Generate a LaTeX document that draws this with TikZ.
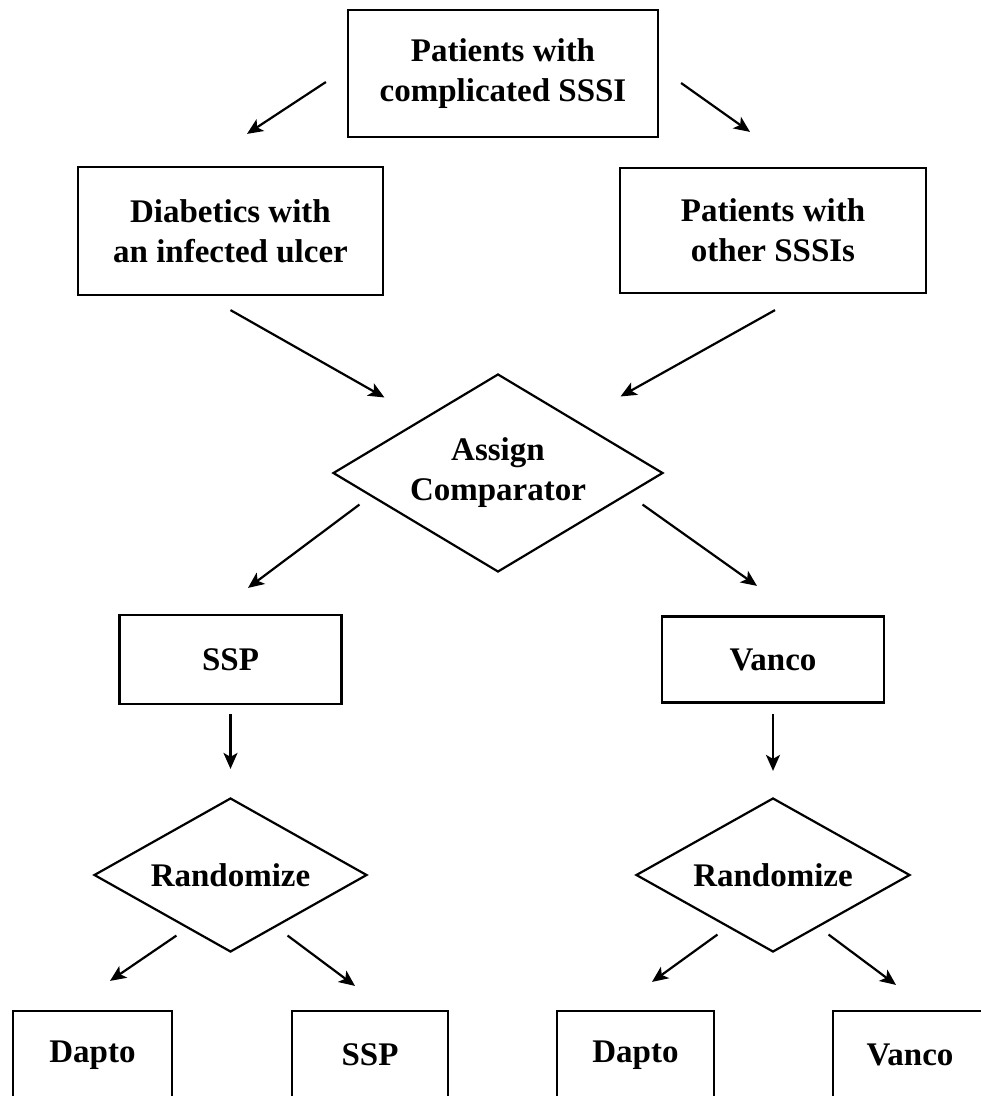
\documentclass[tikz,border=0pt]{standalone}
\usepackage{fontspec}
\setmainfont{Liberation Serif}
\usepackage{tikz}
\usetikzlibrary{arrows.meta,positioning,shapes.geometric,calc}
\tikzset{
  stagebox/.style={
    rectangle, draw=black, line width=2.2pt,
    font=\fontsize{33pt}{40pt}\selectfont\bfseries,
    align=center, inner sep=0pt
  },
  choicebox/.style={
    diamond, draw=black, line width=2.2pt, aspect=1.7,
    font=\fontsize{33pt}{40pt}\selectfont\bfseries,
    align=center, inner sep=0pt
  },
  flowarrow/.style={
    -{Stealth[length=16pt,width=14pt,inset=4pt]}, line width=2.2pt, color=black
  },
}

\begin{document}
\begin{tikzpicture}[x=1pt,y=-1pt]
  \useasboundingbox (0,0) rectangle (981,1096);

  \node[stagebox, minimum width=310pt, minimum height=127pt] (top) at (503,73.5)
    {Patients with\\complicated SSSI};

  % Patient groups
  \node[stagebox, minimum width=305pt, minimum height=128pt] (diab) at (230.5,231)
    {Diabetics with\\an infected ulcer};
  \node[stagebox, minimum width=306pt, minimum height=125pt] (other) at (773,230.5)
    {Patients with\\other SSSIs};

  \node[choicebox, minimum width=330pt, minimum height=198pt] (assign) at (498,473)
    {Assign\\Comparator};

  % Comparator arms
  \node[stagebox, minimum width=222pt, minimum height=89pt] (sspA) at (230.5,659.5) {SSP};
  \node[stagebox, minimum width=222pt, minimum height=86pt] (vancoA) at (773,659.5) {Vanco};

  \node[choicebox, minimum width=273pt, minimum height=154pt] (randL) at (230.5,875) {Randomize};
  \node[choicebox, minimum width=274pt, minimum height=154pt] (randR) at (773,875) {Randomize};

  % Treatment groups
  \node[stagebox, minimum width=159pt, minimum height=88pt] (daptoL) at (92.5,1055) {Dapto};
  \node[stagebox, minimum width=156pt, minimum height=88pt] (sspB) at (370,1055) {SSP};
  \node[stagebox, minimum width=157pt, minimum height=88pt] (daptoR) at (635.5,1055) {Dapto};
  \node[stagebox, minimum width=154pt, minimum height=88pt] (vancoB) at (910,1055) {Vanco};

  \draw[flowarrow] ($(top.west)+(-21,8.5)$) -- ($(diab.north)+(16.5,-32)$);
  \draw[flowarrow] ($(top.east)+(22,9.5)$) -- ($(other.north)+(-23,-35)$);
  \draw[flowarrow] ($(diab.south)+(0,14)$) -- ($(assign.north west)+(-30.5,-25.5)$);
  \draw[flowarrow] ($(other.south)+(2,16)$) -- ($(assign.north east)+(39.5,-26.5)$);
  \draw[flowarrow] ($(assign.south west)+(-55.5,-18.5)$) -- ($(sspA.north)+(17.5,-26)$);
  \draw[flowarrow] ($(assign.south east)+(61.5,-18.5)$) -- ($(vancoA.north)+(-16,-29.5)$);
  \draw[flowarrow, shorten <=9pt, shorten >=28pt] (sspA.south) -- (randL.north);
  \draw[flowarrow, shorten <=10.5pt, shorten >=26pt] (vancoA.south) -- (randR.north);
  \draw[flowarrow] ($(randL.south west)+(14.75,21.5)$) -- ($(daptoL.north)+(17.5,-29)$);
  \draw[flowarrow] ($(randL.south east)+(-11.75,21.5)$) -- ($(sspB.north)+(-15,-24)$);
  \draw[flowarrow] ($(randR.south west)+(13.5,20.5)$) -- ($(daptoR.north)+(16.5,-28)$);
  \draw[flowarrow] ($(randR.south east)+(-13.5,20.5)$) -- ($(vancoB.north)+(-14,-25)$);
\end{tikzpicture}
\end{document}
